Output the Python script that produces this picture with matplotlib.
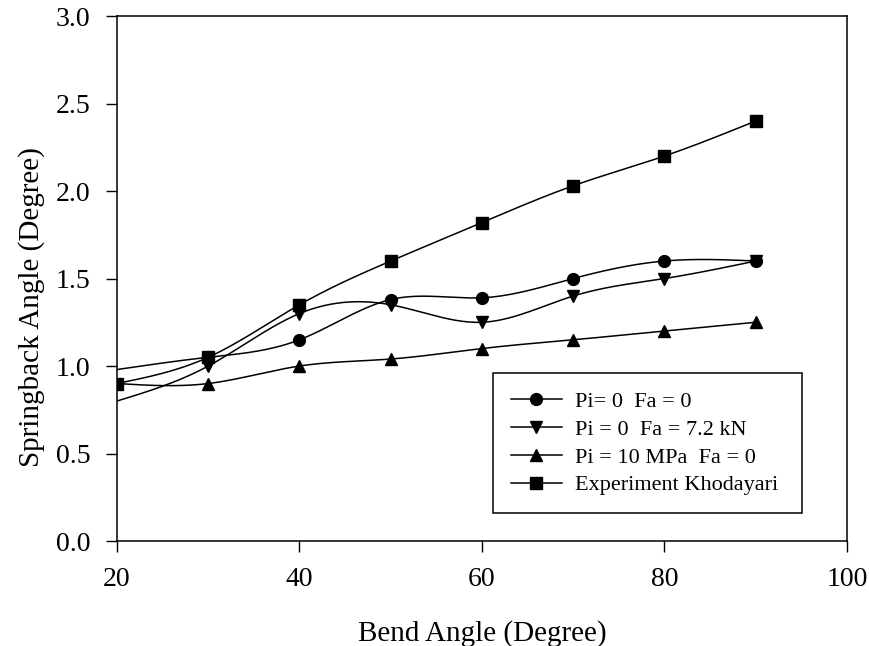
import numpy as np
import matplotlib
matplotlib.use("Agg")
import matplotlib.pyplot as plt
from matplotlib.lines import Line2D

plt.rcParams['font.family'] = ['Liberation Serif', 'DejaVu Serif']

bend_angle = [20, 30, 40, 50, 60, 70, 80, 90]
pi0_fa0 = [0.98, 1.05, 1.15, 1.38, 1.39, 1.50, 1.60, 1.60]
pi0_fa72 = [0.80, 1.00, 1.30, 1.35, 1.25, 1.40, 1.50, 1.60]
pi10_fa0 = [0.90, 0.90, 1.00, 1.04, 1.10, 1.15, 1.20, 1.25]
experiment = [0.90, 1.05, 1.35, 1.60, 1.82, 2.03, 2.20, 2.40]

labels = ["Pi= 0  Fa = 0", "Pi = 0  Fa = 7.2 kN", "Pi = 10 MPa  Fa = 0",
          "Experiment Khodayari"]
markers = ["o", "v", "^", "s"]
first_marked = [1, 1, 1, 0]  # index of first point drawn with a marker

x_ticks = [20, 40, 60, 80, 100]
y_ticks = [0.0, 0.5, 1.0, 1.5, 2.0, 2.5, 3.0]


def natural_spline(x, y, xs):
    x = np.asarray(x, float)
    y = np.asarray(y, float)
    n = len(x)
    h = np.diff(x)
    A = np.zeros((n, n))
    b = np.zeros(n)
    A[0, 0] = 1
    A[-1, -1] = 1
    for i in range(1, n - 1):
        A[i, i - 1] = h[i - 1]
        A[i, i] = 2 * (h[i - 1] + h[i])
        A[i, i + 1] = h[i]
        b[i] = 3 * ((y[i + 1] - y[i]) / h[i] - (y[i] - y[i - 1]) / h[i - 1])
    c = np.linalg.solve(A, b)
    out = np.empty_like(xs)
    for k, xv in enumerate(xs):
        i = min(max(np.searchsorted(x, xv) - 1, 0), n - 2)
        dx = xv - x[i]
        bi = (y[i + 1] - y[i]) / h[i] - h[i] * (2 * c[i] + c[i + 1]) / 3
        di = (c[i + 1] - c[i]) / (3 * h[i])
        out[k] = y[i] + bi * dx + c[i] * dx ** 2 + di * dx ** 3
    return out


fig = plt.figure(figsize=(8.7, 6.46), dpi=100)
ax = fig.add_axes([0.1345, 0.1625, 0.839, 0.8127])

xs = np.linspace(bend_angle[0], bend_angle[-1], 400)
handles = []
for series, m, fm, lab in zip([pi0_fa0, pi0_fa72, pi10_fa0, experiment],
                              markers, first_marked, labels):
    ax.plot(xs, natural_spline(bend_angle, series, xs), color='black', lw=1.1)
    ax.plot(bend_angle[fm:], series[fm:], linestyle='none', marker=m,
            color='black', markersize=8.5)
    handles.append(Line2D([], [], color='black', lw=1.1, marker=m,
                          markersize=8.5, label=lab))

ax.set_xlim(20, 100)
ax.set_ylim(0, 3.0)
ax.set_xticks(x_ticks)
ax.set_yticks(y_ticks)
ax.set_yticklabels([f"{v:.1f}" for v in y_ticks])
ax.tick_params(direction='out', length=8, width=1, labelsize=20, pad=11,
               top=False, right=False)
for s in ax.spines.values():
    s.set_linewidth(1.1)
ax.set_xlabel("Bend Angle (Degree)", fontsize=21, labelpad=20)
ax.set_ylabel("Springback Angle (Degree)", fontsize=21)
ax.yaxis.set_label_coords(-0.098, 0.446)

leg = ax.legend(handles=handles, loc='lower left',
                bbox_to_anchor=(0.515, 0.053, 0.423, 0.27), mode='expand',
                fontsize=16, frameon=True,
                fancybox=False, edgecolor='black', framealpha=1,
                handlelength=2.3, handletextpad=0.6, labelspacing=0.33,
                borderpad=0.8, borderaxespad=0)
leg.get_frame().set_linewidth(1.1)

fig.savefig("out.png", dpi=100)
